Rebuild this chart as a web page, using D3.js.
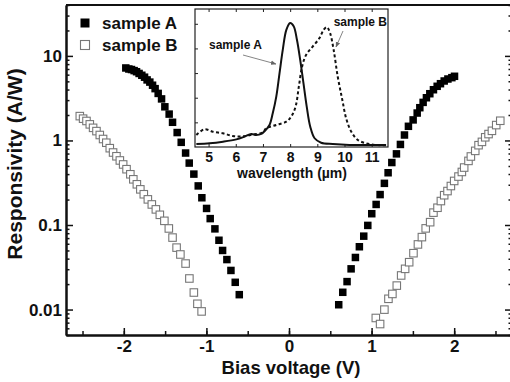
<!DOCTYPE html>
<html>
<head>
<meta charset="utf-8">
<script src="https://cdn.jsdelivr.net/npm/d3@7"></script>
<style>
  body { margin: 0; background: #fff; }
  svg { display: block; }
  text { font-family: "Liberation Sans", Arial, sans-serif; font-weight: bold; fill: #111; }
</style>
</head>
<body>
<svg id="chart" width="510" height="382"></svg>
<script>
// sample A (filled squares), negative and positive bias
const voltA = [-1.976,-1.939,-1.907,-1.875,-1.846,-1.815,-1.782,-1.749,-1.718,-1.685,-1.652,-1.621,-1.584,-1.543,-1.503,-1.451,-1.410,-1.354,-1.305,-1.252,-1.208,-1.152,-1.099,-1.055,-0.998,-0.954,-0.897,-0.848,-0.804,-0.752,-0.703,-0.651,-0.602,
  0.602,0.651,0.703,0.752,0.804,0.852,0.905,0.954,1.002,1.055,1.103,1.155,1.200,1.245,1.301,1.349,1.398,1.446,1.503,1.552,1.584,1.624,1.664,1.705,1.749,1.794,1.834,1.879,1.924,1.972,2.004];
const respA = [7.2,7.0,6.9,6.7,6.5,6.2,5.9,5.6,5.2,4.9,4.5,4.1,3.6,3.1,2.5,2.05,1.64,1.24,0.95,0.71,0.54,0.40,0.29,0.21,0.157,0.119,0.090,0.066,0.050,0.039,0.029,0.021,0.015,
  0.0114,0.016,0.0214,0.0303,0.0413,0.0553,0.0738,0.0989,0.136,0.175,0.229,0.311,0.415,0.548,0.694,0.897,1.16,1.47,1.75,2.11,2.44,2.82,3.2,3.57,3.98,4.37,4.69,5.05,5.33,5.53,5.74];

// sample B (open squares)
const voltB = [-2.533,-2.493,-2.452,-2.412,-2.372,-2.331,-2.291,-2.251,-2.212,-2.170,-2.130,-2.089,-2.048,-2.008,-1.967,-1.921,-1.885,-1.842,-1.800,-1.758,-1.709,-1.661,-1.612,-1.564,-1.509,-1.455,-1.410,-1.361,-1.315,-1.252,-1.206,-1.152,-1.109,-1.058,
  1.051,1.103,1.155,1.204,1.252,1.305,1.358,1.406,1.455,1.507,1.561,1.609,1.655,1.709,1.749,1.798,1.839,1.879,1.919,1.960,2.000,2.052,2.093,2.121,2.173,2.202,2.255,2.295,2.336,2.376,2.416,2.457,2.509,2.558];
const respB = [1.94,1.81,1.70,1.55,1.41,1.29,1.16,1.04,0.94,0.81,0.72,0.65,0.58,0.52,0.457,0.398,0.347,0.303,0.264,0.231,0.201,0.175,0.153,0.132,0.112,0.091,0.071,0.054,0.0448,0.035,0.0233,0.0159,0.0117,0.0095,
  0.00795,0.00674,0.00998,0.0134,0.0153,0.0192,0.0253,0.0303,0.0363,0.0464,0.0589,0.0719,0.0912,0.108,0.140,0.160,0.192,0.225,0.252,0.289,0.332,0.374,0.424,0.478,0.573,0.646,0.753,0.879,0.962,1.09,1.19,1.30,1.52,1.71];

const xTicks = [-2, -1, 0, 1, 2];
const yTicks = [0.01, 0.1, 1, 10];
const yTickLabels = ["0.01", "0.1", "1", "10"];

// inset spectra
const wlA = [4.55,5.04,5.53,6.02,6.32,6.57,6.75,6.94,7.10,7.24,7.36,7.49,7.61,7.73,7.86,8.00,8.13,8.25,8.37,8.49,8.61,8.74,8.90,9.14,9.57,10.18,10.8,11.53];
const specA = [0.024,0.030,0.043,0.062,0.084,0.106,0.098,0.106,0.138,0.179,0.274,0.409,0.600,0.790,0.950,1.006,0.980,0.870,0.707,0.518,0.328,0.165,0.071,0.035,0.024,0.016,0.016,0.016];
const wlB = [4.55,4.85,5.16,5.53,5.89,6.2,6.6,7.0,7.12,7.49,7.86,8.04,8.20,8.32,8.44,8.59,8.83,9.08,9.23,9.35,9.47,9.60,9.75,9.92,10.06,10.25,10.49,10.8,11.17,11.53];
const specB = [0.098,0.144,0.124,0.111,0.089,0.085,0.100,0.120,0.152,0.179,0.206,0.247,0.328,0.490,0.653,0.748,0.815,0.884,0.951,0.973,0.924,0.789,0.572,0.382,0.233,0.124,0.057,0.030,0.016,0.014];
const insetTicks = [5, 6, 7, 8, 9, 10, 11];

const svg = d3.select("#chart");

const x = d3.scaleLinear().domain([-2.7, 2.7]).range([66, 512]);
const y = d3.scaleLog().domain([0.005, 40]).range([335, 5]);

// minor log ticks
const yMinor = [];
[0.001, 0.01, 0.1, 1, 10].forEach(d => {
  for (let k = 2; k <= 9; k++) {
    const v = d * k;
    if (v >= 0.005 && v <= 40) yMinor.push(v);
  }
});

// frame: top line
svg.append("line")
  .attr("x1", 66).attr("x2", 512).attr("y1", 5).attr("y2", 5)
  .attr("stroke", "#111").attr("stroke-width", 2);

function styleAxis(g, width) {
  g.select(".domain").attr("stroke", "#111").attr("stroke-width", width);
  g.selectAll(".tick line").attr("stroke", "#111").attr("stroke-width", 1.5);
  g.selectAll(".tick text").style("font-size", "17px").attr("fill", "#111");
}

// x axis
svg.append("g")
  .attr("transform", "translate(0,335)")
  .call(d3.axisBottom(x).tickValues(d3.range(-2.5, 2.7, 0.5)).tickFormat("").tickSizeInner(-4).tickSizeOuter(0))
  .call(g => styleAxis(g, 2));
svg.append("g")
  .attr("transform", "translate(0,335)")
  .call(d3.axisBottom(x).tickValues(xTicks).tickFormat(d => String(d)).tickSizeInner(-7).tickSizeOuter(0).tickPadding(5))
  .call(g => styleAxis(g, 2))
  .call(g => g.selectAll(".tick text").attr("dy", "0.72em"));

// left y axis
svg.append("g")
  .attr("transform", "translate(66,0)")
  .call(d3.axisLeft(y).tickValues(yMinor).tickFormat("").tickSizeInner(-3.5).tickSizeOuter(0))
  .call(g => styleAxis(g, 2));
svg.append("g")
  .attr("transform", "translate(66,0)")
  .call(d3.axisLeft(y).tickValues(yTicks).tickFormat((d, i) => yTickLabels[i]).tickSizeInner(-7).tickSizeOuter(0).tickPadding(4))
  .call(g => styleAxis(g, 2));

// right y axis (mostly off the edge)
svg.append("g")
  .attr("transform", "translate(512,0)")
  .call(d3.axisRight(y).tickValues(yMinor).tickFormat("").tickSizeInner(-3.5).tickSizeOuter(0))
  .call(g => styleAxis(g, 2));
svg.append("g")
  .attr("transform", "translate(512,0)")
  .call(d3.axisRight(y).tickValues(yTicks).tickFormat("").tickSizeInner(-7).tickSizeOuter(0))
  .call(g => styleAxis(g, 2));

// axis titles
svg.append("text")
  .attr("x", 291).attr("y", 374)
  .attr("text-anchor", "middle")
  .style("font-size", "18.5px")
  .text("Bias voltage (V)");
svg.append("text")
  .attr("transform", "translate(22,164) rotate(-90)")
  .attr("text-anchor", "middle")
  .style("font-size", "21px")
  .text("Responsivity (A/W)");

// data
const sq = 7.5;
svg.append("g").selectAll("rect")
  .data(voltB.map((v, i) => [v, respB[i]]))
  .enter().append("rect")
  .attr("x", d => x(d[0]) - sq / 2)
  .attr("y", d => y(d[1]) - sq / 2)
  .attr("width", sq).attr("height", sq)
  .attr("fill", "#fff").attr("stroke", "#777").attr("stroke-width", 1.1);

svg.append("g").selectAll("rect")
  .data(voltA.map((v, i) => [v, respA[i]]))
  .enter().append("rect")
  .attr("x", d => x(d[0]) - sq / 2)
  .attr("y", d => y(d[1]) - sq / 2)
  .attr("width", sq).attr("height", sq)
  .attr("fill", "#000");

// legend
svg.append("rect").attr("x", 80.5).attr("y", 18.5).attr("width", 9).attr("height", 9).attr("fill", "#000");
svg.append("text").attr("x", 102).attr("y", 29).style("font-size", "17px").text("sample A");
svg.append("rect").attr("x", 80.5).attr("y", 40.5).attr("width", 9).attr("height", 9)
  .attr("fill", "#fff").attr("stroke", "#777").attr("stroke-width", 1.1);
svg.append("text").attr("x", 102).attr("y", 51).style("font-size", "17px").text("sample B");

// inset
const ix = d3.scaleLinear().domain([4.5, 11.6]).range([195, 388]);
const iy = d3.scaleLinear().domain([0, 1.12]).range([147, 9]);

const inset = svg.append("g");
inset.append("rect")
  .attr("x", 195).attr("y", 9).attr("width", 193).attr("height", 138)
  .attr("fill", "#fff").attr("stroke", "#222").attr("stroke-width", 1.2);

inset.append("g")
  .attr("transform", "translate(0,147)")
  .call(d3.axisBottom(ix).tickValues(insetTicks).tickFormat(d3.format("d")).tickSizeInner(-3).tickSizeOuter(0).tickPadding(5))
  .call(g => {
    g.select(".domain").remove();
    g.selectAll(".tick line").attr("stroke", "#222");
    g.selectAll(".tick text").style("font-size", "14px").attr("fill", "#111");
  });
inset.append("g")
  .attr("transform", "translate(0,9)")
  .call(d3.axisTop(ix).tickValues(insetTicks).tickFormat("").tickSizeInner(-3).tickSizeOuter(0))
  .call(g => {
    g.select(".domain").remove();
    g.selectAll(".tick line").attr("stroke", "#222");
  });
inset.append("g")
  .attr("transform", "translate(195,0)")
  .call(d3.axisLeft(iy).tickValues([0.2, 0.4, 0.6, 0.8, 1.0]).tickFormat("").tickSizeInner(-3).tickSizeOuter(0))
  .call(g => {
    g.select(".domain").remove();
    g.selectAll(".tick line").attr("stroke", "#222");
  });

const line = d3.line().x(d => ix(d[0])).y(d => iy(d[1])).curve(d3.curveCatmullRom);
inset.append("path")
  .datum(wlB.map((w, i) => [w, specB[i]]))
  .attr("d", line)
  .attr("fill", "none").attr("stroke", "#111").attr("stroke-width", 2)
  .attr("stroke-dasharray", "3,2.5");
inset.append("path")
  .datum(wlA.map((w, i) => [w, specA[i]]))
  .attr("d", line)
  .attr("fill", "none").attr("stroke", "#111").attr("stroke-width", 2);

inset.append("text")
  .attr("x", 292).attr("y", 178)
  .attr("text-anchor", "middle")
  .style("font-size", "14px")
  .text("wavelength (\u00b5m)");

// annotations
svg.append("defs").append("marker")
  .attr("id", "arr").attr("viewBox", "0 0 10 10")
  .attr("refX", 9).attr("refY", 5)
  .attr("markerWidth", 7).attr("markerHeight", 7)
  .attr("orient", "auto")
  .append("path").attr("d", "M0,1 L10,5 L0,9 Z").attr("fill", "#666");

inset.append("text").attr("x", 209).attr("y", 49).style("font-size", "12px").text("sample A");
inset.append("line")
  .attr("x1", 243).attr("y1", 55).attr("x2", 276).attr("y2", 64)
  .attr("stroke", "#666").attr("stroke-width", 0.8).attr("marker-end", "url(#arr)");
inset.append("text").attr("x", 387).attr("y", 26).attr("text-anchor", "end").style("font-size", "12px").text("sample B");
inset.append("line")
  .attr("x1", 343).attr("y1", 31).attr("x2", 336).attr("y2", 47)
  .attr("stroke", "#666").attr("stroke-width", 0.8).attr("marker-end", "url(#arr)");
</script>
</body>
</html>
